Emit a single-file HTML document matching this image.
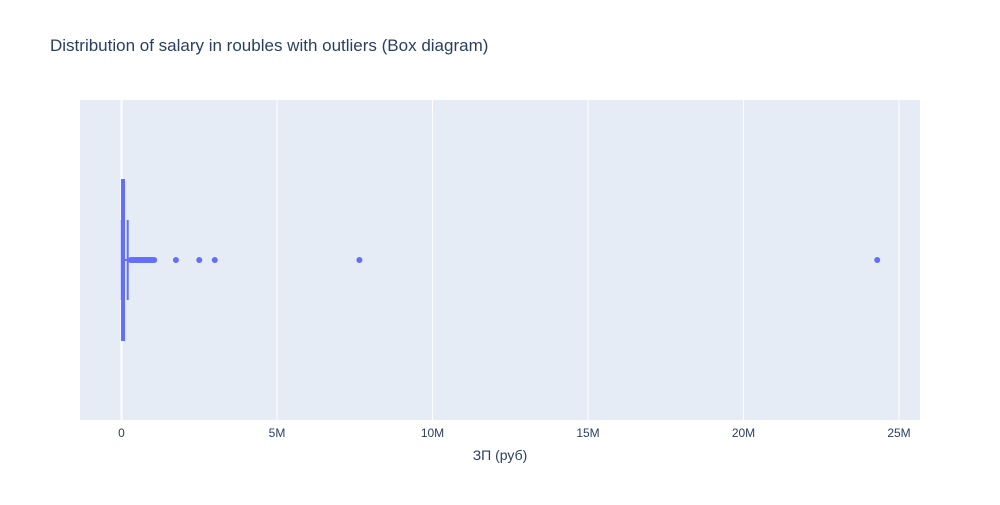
<!DOCTYPE html>
<html><head><meta charset="utf-8"><style>
body{margin:0;background:#fff;}
svg text{font-family:"Liberation Sans",sans-serif;}
</style></head><body>
<svg id="chart" width="1000" height="500" xmlns="http://www.w3.org/2000/svg">
<text x="50" y="51" font-size="17" fill="#2a3f5f">Distribution of salary in roubles with outliers (Box diagram)</text>
<rect x="80" y="100" width="840" height="320" fill="#e5ecf6"/>
<g id="grid"></g>
<g id="ticks"></g>
<g id="box"></g>
<text x="500" y="460" font-size="14" fill="#2a3f5f" text-anchor="middle">ЗП (руб)</text>
</svg>
<script>
const tickValues=[0,5e6,10e6,15e6,20e6,25e6];
const tickLabels=["0","5M","10M","15M","20M","25M"];
const boxStats=[10000,50000,75000,110000,200000]; // lowerfence,q1,median,q3,upperfence
const outliers=[300000,350000,400000,450000,500000,550000,600000,650000,700000,750000,800000,850000,900000,950000,1000000,1050000,1750000,2500000,3000000,7650000,24300000];
const NS="http://www.w3.org/2000/svg";
const x=v=>121.5+v*(277-121.5)/5e6;
const yc=260;
function mk(t,a,p){const e=document.createElementNS(NS,t);for(const k in a)e.setAttribute(k,a[k]);p.appendChild(e);return e;}
const grid=document.getElementById('grid'),ticks=document.getElementById('ticks'),box=document.getElementById('box');
tickValues.forEach((v,i)=>{
 const l=mk('line',{x1:x(v),x2:x(v),y1:100,y2:420,stroke:'#fff','stroke-width':i==0?2:1},grid);
 
 
 const t=mk('text',{x:x(v),y:437,'font-size':12,fill:'#2a3f5f','text-anchor':'middle'},ticks);
 t.textContent=tickLabels[i];
 
 
});
const c='#636efa';
const [lf,q1,med,q3,uf]=boxStats;
const w1=mk('line',{x1:x(q3),x2:x(uf),y1:yc,y2:yc,stroke:c,'stroke-width':2},box);


[lf,uf].forEach(v=>{const cap=mk('line',{x1:x(v),x2:x(v),y1:220,y2:300,stroke:c,'stroke-width':2},box);
 
 });
const b=mk('rect',{x:x(q1)-1,y:180,width:Math.max(2,x(q3)-x(q1)),height:160,fill:c,'fill-opacity':0.6,stroke:c,'stroke-width':2},box);


const m=mk('line',{x1:x(med),x2:x(med),y1:180,y2:340,stroke:c,'stroke-width':2},box);


outliers.forEach(v=>{const p=mk('circle',{cx:x(v),cy:yc,r:3,fill:c},box);
 
 });
</script>
</body></html>
